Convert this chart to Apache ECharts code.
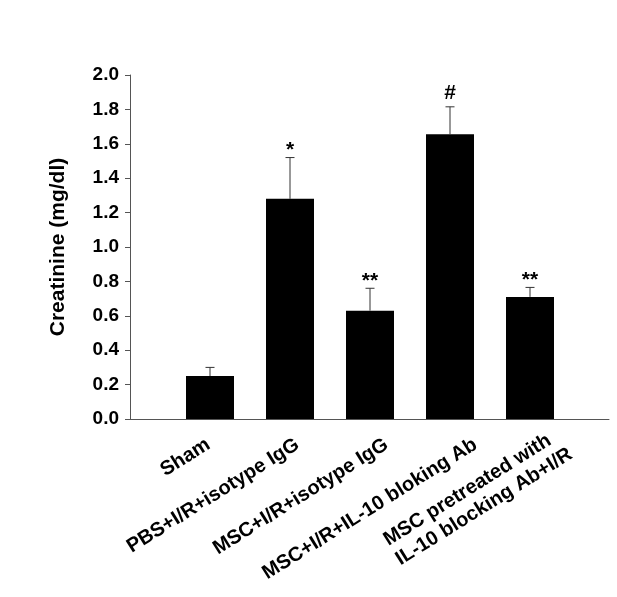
<!DOCTYPE html>
<html>
<head>
<meta charset="utf-8">
<script src="https://cdn.jsdelivr.net/npm/echarts@6/dist/echarts.min.js"></script>
<style>
html,body{margin:0;padding:0;background:#fff;}
#chart{width:617px;height:597px;}
</style>
</head>
<body>
<div id="chart"></div>
<script>
var categories = ['Sham', 'PBS+I/R+isotype IgG', 'MSC+I/R+isotype IgG', 'MSC+I/R+IL-10 bloking Ab', 'MSC pretreated with\nIL-10 blocking Ab+I/R'];
var means = [0.25, 1.28, 0.63, 1.655, 0.71];
var errors = [0.05, 0.24, 0.13, 0.16, 0.055];
var sigLabels = ['', '*', '**', '#', '**'];
var yTicks = { min: 0, max: 2.0, interval: 0.2 };

var FONT = '"Liberation Sans", Arial, sans-serif';
var chart = echarts.init(document.getElementById('chart'), null, { renderer: 'canvas' });

var errData = means.map(function (m, i) { return [i, m, m + errors[i]]; });

var option = {
  backgroundColor: '#fff',
  animation: false,
  grid: [
    { left: 130, right: 8, top: 75, bottom: 178 },
    { left: 170, width: 400, top: 75, bottom: 178 },
    { left: 164, width: 445, top: 75, bottom: 178 }
  ],
  xAxis: [
    { gridIndex: 0, type: 'value', min: 0, max: 1, axisLine: { show: true, lineStyle: { color: '#555', width: 1 } },
      axisTick: { show: false }, axisLabel: { show: false }, splitLine: { show: false } },
    { gridIndex: 1, type: 'category', data: categories, axisLine: { show: false }, axisTick: { show: false },
      axisLabel: { show: false }, splitLine: { show: false } },
    { gridIndex: 2, type: 'category', data: categories, axisLine: { show: false }, axisTick: { show: false },
      axisLabel: { rotate: 32, margin: 24, interval: 0,
        formatter: function (v) { return v.split('\n').map(function (s) { return '{a|' + s + '}'; }).join('\n'); },
        rich: { a: { align: 'left', color: '#000', fontFamily: FONT, fontWeight: 'bold', fontSize: 20, lineHeight: 23 } } },
      splitLine: { show: false } }
  ],
  yAxis: [
    { gridIndex: 0, type: 'value', min: yTicks.min, max: yTicks.max, interval: yTicks.interval,
      name: 'Creatinine (mg/dl)', nameLocation: 'middle', nameGap: 61,
      nameTextStyle: { color: '#000', fontFamily: FONT, fontWeight: 'bold', fontSize: 21 },
      axisLine: { show: true, lineStyle: { color: '#555', width: 1 } },
      axisTick: { show: true, inside: false, length: 5, lineStyle: { color: '#555' } },
      axisLabel: { color: '#000', fontFamily: FONT, fontWeight: 'bold', fontSize: 19, margin: 11,
        formatter: function (v) { return v.toFixed(1); } },
      splitLine: { show: false } },
    { gridIndex: 1, type: 'value', min: yTicks.min, max: yTicks.max, interval: yTicks.interval, show: false, splitLine: { show: false } },
    { gridIndex: 2, type: 'value', min: yTicks.min, max: yTicks.max, interval: yTicks.interval, show: false, splitLine: { show: false } }
  ],
  series: [
    { type: 'bar', xAxisIndex: 1, yAxisIndex: 1, data: means, barWidth: 48,
      itemStyle: { color: '#000' } },
    { type: 'custom', xAxisIndex: 1, yAxisIndex: 1, data: errData, z: 5,
      renderItem: function (params, api) {
        var i = api.value(0);
        var base = api.coord([i, api.value(1)]);
        var top = api.coord([i, api.value(2)]);
        var hw = 4.5;
        var children = [
          { type: 'line', shape: { x1: top[0], y1: base[1], x2: top[0], y2: top[1] }, style: { stroke: '#333', lineWidth: 1 } },
          { type: 'line', shape: { x1: top[0] - hw, y1: top[1], x2: top[0] + hw, y2: top[1] }, style: { stroke: '#333', lineWidth: 1 } }
        ];
        var lab = sigLabels[params.dataIndex];
        if (lab) {
          var dy = lab.indexOf('*') >= 0 ? 7 : 13.5;
          children.push({ type: 'text', x: top[0], y: top[1] - dy,
            style: { text: lab, fill: '#000', font: 'bold 21px ' + FONT, textAlign: 'center', textVerticalAlign: 'middle' } });
        }
        return { type: 'group', children: children };
      }
    },
    { type: 'bar', xAxisIndex: 2, yAxisIndex: 2, data: [], silent: true }
  ]
};
chart.setOption(option);
</script>
</body>
</html>
